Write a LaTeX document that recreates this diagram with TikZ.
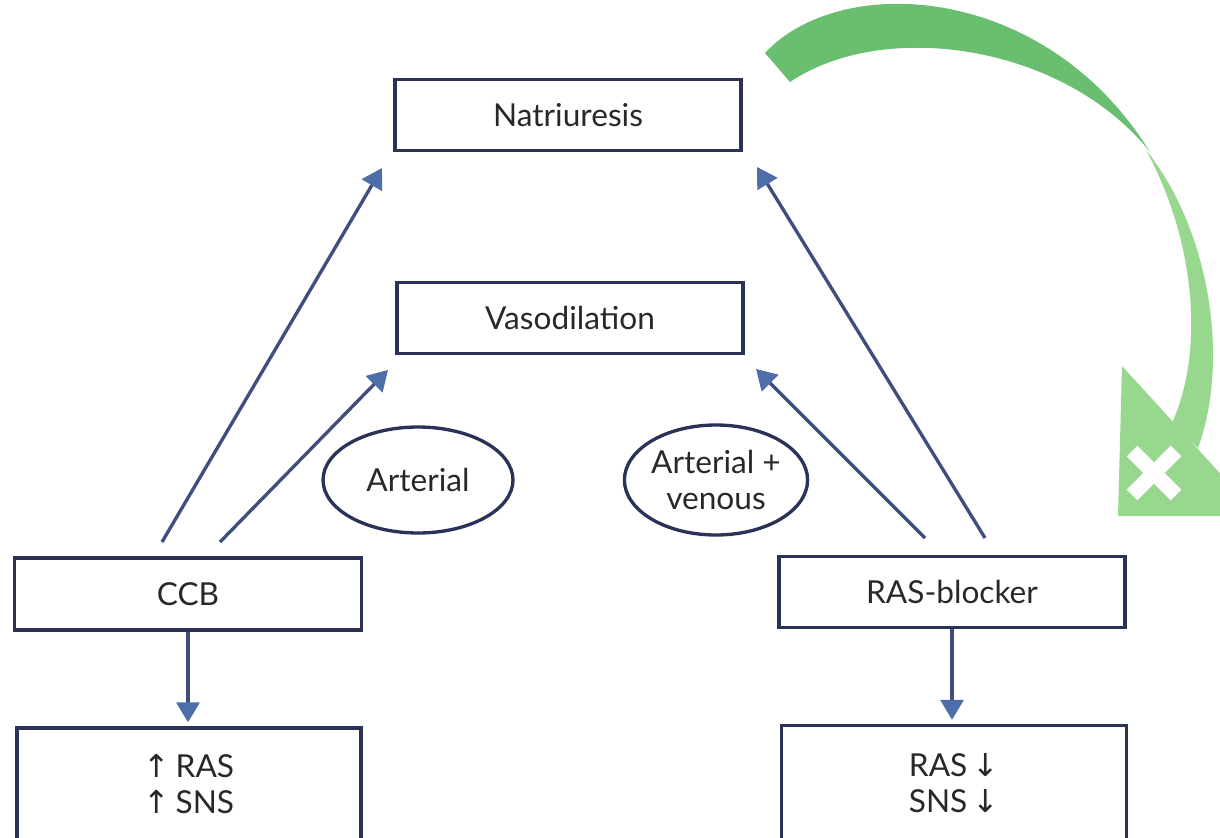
\documentclass[tikz,border=0pt]{standalone}
\usepackage{fontspec}
\setmainfont{Lato}
\newfontfamily\arrowfont{DejaVu Sans}
\usetikzlibrary{arrows.meta,shapes.geometric}
\definecolor{boxline}{RGB}{42,50,88}
\definecolor{arrowline}{RGB}{62,78,125}
\definecolor{arrowhead}{RGB}{78,110,170}
\definecolor{textgray}{RGB}{40,40,40}
\definecolor{ribbondark}{RGB}{105,190,112}
\definecolor{ribbonlight}{RGB}{152,215,142}
\newcommand{\up}{{\arrowfont\char"2191}}
\newcommand{\dn}{{\arrowfont\char"2193}}

\begin{document}
\begin{tikzpicture}[x=0.02cm,y=-0.02cm,
  box/.style={draw=boxline,line width=1.9pt,rectangle,inner sep=0pt,
    text=textgray,font=\fontsize{18}{20.5}\selectfont,align=center},
  oval/.style={draw=boxline,line width=1.9pt,ellipse,inner sep=0pt,
    text=textgray,font=\fontsize{18}{20.5}\selectfont,align=center},
  flow/.style={draw=arrowline,line width=1.9pt,
    -{Triangle[length=0.4cm,width=0.46cm,color=arrowhead]}}]
\useasboundingbox (0,0) rectangle (1220,838);
\clip (0,0) rectangle (1220,838);

% boxes
\node[box,minimum width=6.92cm,minimum height=1.42cm] (nat) at (568,115) {Natriuresis};
\node[box,minimum width=6.92cm,minimum height=1.42cm] (vas) at (570,318) {Vasodilation};
\node[box,minimum width=6.94cm,minimum height=1.44cm] (ccb) at (188,594) {CCB};
\node[box,minimum width=6.92cm,minimum height=1.42cm] (ras) at (952,592) {RAS-blocker};
\node[box,minimum width=6.88cm,minimum height=2.24cm] (lowL) at (189,784) {\up\,RAS\\\up\,SNS};
\node[box,minimum width=6.9cm,minimum height=2.3cm] (lowR) at (954,783) {RAS\,\dn\\SNS\,\dn};

% ovals
\node[oval,minimum width=3.8cm,minimum height=2.12cm] (art) at (418,480) {Arterial};
\node[oval,minimum width=3.5cm,minimum height=2.2cm] (artven) at (716,480) {Arterial +\\venous};

% arrow ends
\coordinate (ccbN) at (162,542);
\coordinate (ccbV) at (220,542);
\coordinate (rasV) at (925,538);
\coordinate (rasN) at (985,538);
\coordinate (natL) at (382,168);
\coordinate (natR) at (757,167);
\coordinate (vasL) at (388,370);
\coordinate (vasR) at (756,369);

\draw[flow] (ccbN) -- (natL);
\draw[flow] (ccbV) -- (vasL);
\draw[flow] (rasN) -- (natR);
\draw[flow] (rasV) -- (vasR);
\draw[flow] (ccb.south) -- ([yshift=0.08cm]ccb.south |- lowL.north);
\draw[flow] (ras.south) -- ([yshift=0.08cm]ras.south |- lowR.north);

% curved ribbon arrow
\fill[ribbondark] (765,53) .. controls (840,-28) and (1045,-18) .. (1150,152)
  .. controls (1065,45) and (885,18) .. (790,82) -- cycle;
\fill[ribbonlight] (1146,150) .. controls (1210,230) and (1230,360) .. (1198,448)
  -- (1172,423) .. controls (1205,350) and (1195,240) .. (1146,150) -- cycle;
\fill[ribbonlight] (1122,366) -- (1118,516) -- (1259,516) -- cycle;
\draw[white,line width=8.5pt] (1132,451) -- (1176,495) (1132,495) -- (1176,451);
\end{tikzpicture}
\end{document}
